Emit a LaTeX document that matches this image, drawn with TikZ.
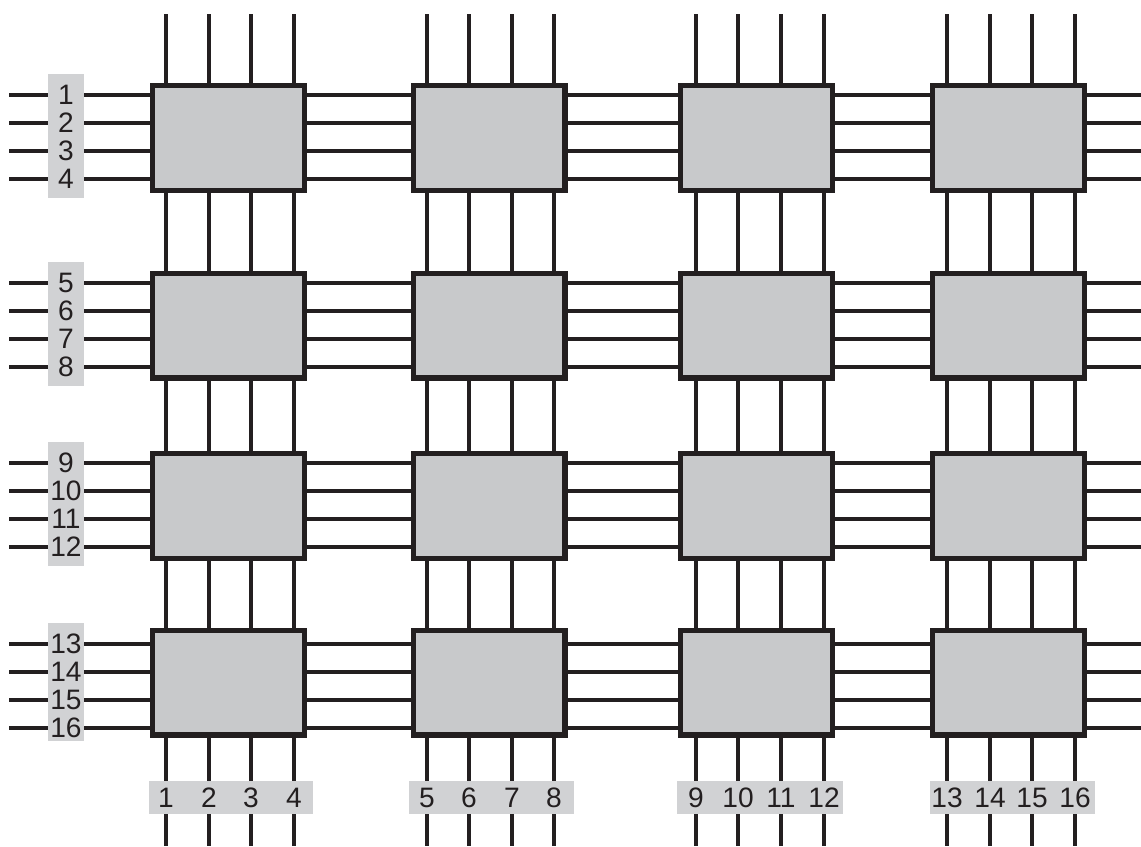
\documentclass[tikz,border=0pt]{standalone}
\usepackage{fontspec}
\setmainfont{Liberation Sans}
\usepackage{tikz}
\usetikzlibrary{calc}
\definecolor{ink}{HTML}{231F20}
\definecolor{cellgray}{HTML}{C8C9CB}
\definecolor{taggray}{HTML}{D1D2D4}

\begin{document}
\begin{tikzpicture}[x=0.02cm, y=-0.02cm,
  cell/.style={draw=ink, fill=cellgray, line width=3pt, minimum width=3.035cm, minimum height=2.095cm, inner sep=0pt},
  link/.style={draw=ink, line width=1.8pt},
  tag/.style={fill=taggray},
  num/.style={font=\fontsize{16}{18}\selectfont, text=ink, inner sep=0pt},
]
\useasboundingbox (0,0) rectangle (1141,846);

% Switch cells, 4 x 4
\foreach \x [count=\c] in {228.5,489,756.5,1008.5}
  \foreach \y [count=\r] in {138,325.5,506,682.5}
    \node[cell] (b\r\c) at (\x,\y) {};

% Vertical wires (columns 1..16)
\foreach \x [count=\n] in {166,209,251,294,427,469,512,554,696,738,781,824,947,990,1032,1075} {
  \pgfmathtruncatemacro\c{(\n-1)/4+1}
  \coordinate (top\n) at (\x,14);
  \coordinate (bot\n) at (\x,846);
  \draw[link] (top\n) -- (top\n |- b1\c.north);
  \foreach \r [evaluate=\r as \s using int(\r+1)] in {1,2,3}
    \draw[link] (top\n |- b\r\c.south) -- (top\n |- b\s\c.north);
  \draw[link] (top\n |- b4\c.south) -- (bot\n);
}

% Horizontal wires (rows 1..16)
\foreach \y [count=\n] in {95,123,151,179,283,311,339,367,463,491,519,547,644,672,700,728} {
  \pgfmathtruncatemacro\r{(\n-1)/4+1}
  \coordinate (lft\n) at (9,\y);
  \coordinate (rgt\n) at (1141,\y);
  \draw[link] (lft\n) -- (lft\n -| b\r1.west);
  \foreach \c [evaluate=\c as \d using int(\c+1)] in {1,2,3}
    \draw[link] (lft\n -| b\r\c.east) -- (lft\n -| b\r\d.west);
  \draw[link] (lft\n -| b\r4.east) -- (rgt\n);
}

% Label backgrounds
\fill[tag] (48,74) rectangle (84,198);
\fill[tag] (48,262) rectangle (84,386);
\fill[tag] (48,442) rectangle (84,566);
\fill[tag] (48,623) rectangle (84,741);
\fill[tag] (149,781) rectangle (313,814);
\fill[tag] (409,781) rectangle (574,814);
\fill[tag] (677,781) rectangle (843,814);
\fill[tag] (930,781) rectangle (1095,814);

% Input and output numbers
\foreach \y [count=\n] in {95,123,151,179,283,311,339,367,463,491,519,547,644,672,700,728}
  \node[num] (in\n) at (66,\y) {\n};
\foreach \x [count=\n] in {166,209,251,294,427,469,512,554,696,738,781,824,947,990,1032,1075}
  \node[num] (out\n) at (\x,797.5) {\n};

\end{tikzpicture}
\end{document}
